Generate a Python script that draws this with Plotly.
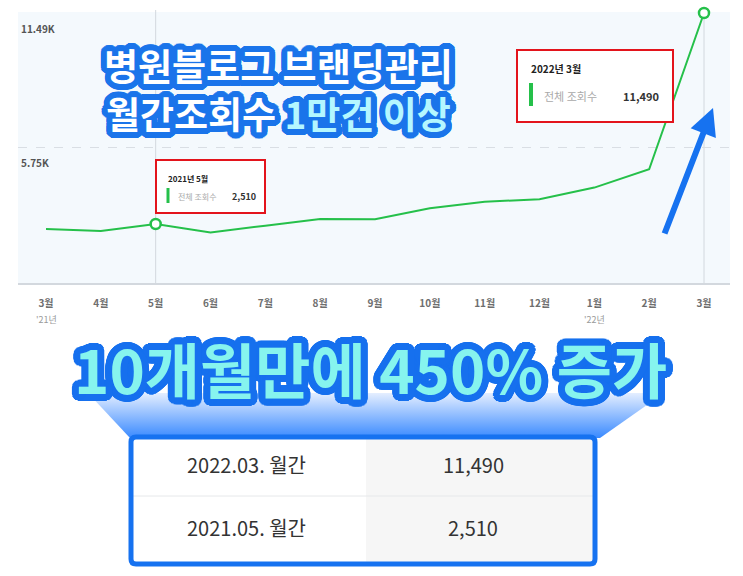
import math
import plotly.graph_objects as go

W, H = 743, 576

# ---------------- data ----------------
months = ["3월", "4월", "5월", "6월", "7월", "8월", "9월", "10월", "11월", "12월", "1월", "2월", "3월"]
views = [2300, 2210, 2510, 2150, 2440, 2720, 2710, 3180, 3460, 3560, 4060, 4840, 11490]
year_labels = ["'21년", "'22년"]
year_label_idx = [0, 10]
highlight_idx = [2, 12]
tooltip_titles = ["2021년 5월", "2022년 3월"]
tooltip_metric = "전체 조회수"
ytick_vals = [5750, 11490]
ytick_text = ["5.75K", "11.49K"]
title_line1 = "병원블로그 브랜딩관리"
title_line2a = "월간조회수 "
title_line2b = "1만건 이상"
headline = "10개월만에 450% 증가"
table_periods = ["2022.03. 월간", "2021.05. 월간"]
table_values = [11490, 2510]

# ---------------- helpers ----------------
FONT = "Noto Sans CJK KR"


def px(x):
    return x / W


def py(y):
    return 1 - y / H


def outline(color, r, steps=24):
    parts = []
    for rr in (r, r * 0.66, r * 0.33):
        for k in range(steps):
            a = 2 * math.pi * k / steps
            parts.append(f"{rr*math.cos(a):.2f}px {rr*math.sin(a):.2f}px 0.6px {color}")
    return ", ".join(parts)


GREEN = "#25c04a"
RED = "#e3141c"
BLUE = "#1672f0"

xs = list(range(len(months)))

fig = go.Figure()

# main line
fig.add_trace(go.Scatter(
    x=xs, y=views, mode="lines",
    line=dict(color=GREEN, width=2),
    xaxis="x", yaxis="y", hoverinfo="skip",
))
# highlighted points
fig.add_trace(go.Scatter(
    x=[xs[i] for i in highlight_idx], y=[views[i] for i in highlight_idx],
    mode="markers",
    marker=dict(size=10, color="white", line=dict(color=GREEN, width=2.5)),
    cliponaxis=False, xaxis="x", yaxis="y", hoverinfo="skip",
))

# gradient trapezoid under the headline (decoration, pixel space)
fig.add_trace(go.Scatter(
    x=[88, 664, 600, 130, 88], y=[393, 393, 438, 438, 393],
    mode="lines", line=dict(width=0), fill="toself",
    fillgradient=dict(type="vertical", start=393, stop=438,
                      colorscale=[[0, "#e4eeff"], [1, "#3a8aff"]]),
    xaxis="x2", yaxis="y2", hoverinfo="skip",
))

# ---------------- axes ----------------
x_left, x_right = 18, 730
y_top, y_base = 12, 283
x0_px, step_px = 46, (704 - 46) / 12
xr = [(x_left - x0_px) / step_px, (x_right - x0_px) / step_px]
per_px = 11490 / (y_base - 13)
yr = [0, 11490 + (13 - y_top) * per_px]

fig.update_layout(
    width=W, height=H,
    margin=dict(l=0, r=0, t=0, b=0),
    paper_bgcolor="white", plot_bgcolor="rgba(0,0,0,0)",
    showlegend=False, hovermode=False,
    xaxis=dict(
        domain=[px(x_left), px(x_right)], range=xr,
        tickvals=xs, ticktext=months, ticks="",
        tickfont=dict(family=FONT, size=10, color="#6e6e6e", weight="bold"),
        ticklabelstandoff=10, ticklabeloverflow="allow",
        showgrid=False, zeroline=False,
        showline=True, linecolor="#d3d8de", linewidth=2,
        fixedrange=True,
    ),
    yaxis=dict(
        domain=[py(y_base), py(y_top)], range=yr,
        tickvals=ytick_vals, showticklabels=False, ticks="",
        showgrid=True, gridcolor="#d9dee4", griddash="dash", gridwidth=1,
        zeroline=False, showline=False, fixedrange=True,
    ),
    xaxis2=dict(domain=[0, 1], range=[0, W], anchor="y2", visible=False, fixedrange=True),
    yaxis2=dict(domain=[0, 1], range=[H, 0], anchor="x2", visible=False, fixedrange=True),
)

shapes = []
# plot background
shapes.append(dict(type="rect", xref="paper", yref="paper", layer="below",
                   x0=px(x_left), x1=px(x_right), y0=py(y_base), y1=py(y_top),
                   fillcolor="#f4f9fd", line=dict(width=0)))
# vertical hover lines
for i, top in zip(highlight_idx, [10, 18]):
    shapes.append(dict(type="line", xref="x", yref="paper", layer="below",
                       x0=xs[i], x1=xs[i], y0=py(y_base), y1=py(top),
                       line=dict(color="#d2d8de", width=1)))

# tooltip boxes
boxes = [(156, 265, 160, 213), (517, 673, 50, 122)]
for (bx0, bx1, by0, by1) in boxes:
    shapes.append(dict(type="rect", xref="paper", yref="paper", layer="above",
                       x0=px(bx0), x1=px(bx1), y0=py(by1), y1=py(by0),
                       fillcolor="white", line=dict(color=RED, width=2)))
# green legend bars in tooltips
bars = [(168, 188, 203, 3), (531, 83, 106, 4)]
for (gx, gy0, gy1, gw) in bars:
    shapes.append(dict(type="line", xref="paper", yref="paper", layer="above",
                       x0=px(gx), x1=px(gx), y0=py(gy0), y1=py(gy1),
                       line=dict(color=GREEN, width=gw)))

# table
tx0, tx1, ty0, ty1 = 131, 595, 437, 564
shapes.append(dict(type="rect", xref="paper", yref="paper", layer="above",
                   x0=px(tx0), x1=px(tx1), y0=py(ty1), y1=py(ty0),
                   fillcolor="white", line=dict(width=0)))
shapes.append(dict(type="rect", xref="paper", yref="paper", layer="above",
                   x0=px(366), x1=px(tx1 - 2), y0=py(ty1 - 2), y1=py(ty0 + 2),
                   fillcolor="#f6f6f6", line=dict(width=0)))
shapes.append(dict(type="line", xref="paper", yref="paper", layer="above",
                   x0=px(tx0 + 2), x1=px(tx1 - 2), y0=py(496), y1=py(496),
                   line=dict(color="#e6e8ea", width=1)))
# rounded blue border
r = 5
x0p, x1p, y0p, y1p = tx0, tx1, ty0, ty1
path = (f"M {px(x0p+r)},{py(y0p)} L {px(x1p-r)},{py(y0p)} "
        f"Q {px(x1p)},{py(y0p)} {px(x1p)},{py(y0p+r)} L {px(x1p)},{py(y1p-r)} "
        f"Q {px(x1p)},{py(y1p)} {px(x1p-r)},{py(y1p)} L {px(x0p+r)},{py(y1p)} "
        f"Q {px(x0p)},{py(y1p)} {px(x0p)},{py(y1p-r)} L {px(x0p)},{py(y0p+r)} "
        f"Q {px(x0p)},{py(y0p)} {px(x0p+r)},{py(y0p)} Z")
shapes.append(dict(type="path", xref="paper", yref="paper", layer="above",
                   path=path, line=dict(color=BLUE, width=5)))

fig.update_layout(shapes=shapes)

ann = []
# y labels (inside the plot, below the gridline)
for v, t in zip(ytick_vals, ytick_text):
    ann.append(dict(x=px(x_left + 1), xref="paper", y=v, yref="y", yshift=-15,
                    text=t, showarrow=False, xanchor="left", yanchor="middle",
                    font=dict(family=FONT, size=10, color="#555555", weight="bold")))

# year labels
for lab, i in zip(year_labels, year_label_idx):
    ann.append(dict(x=xs[i], xref="x", y=py(319), yref="paper", text=lab,
                    showarrow=False, xanchor="center", yanchor="middle",
                    font=dict(family=FONT, size=9, color="#9a9a9a")))

# tooltip texts
tip_layout = [
    dict(tx=166, ty=178, lx=176, vx=258, vy=197, ts=8, ls=8, vs=9),
    dict(tx=529, ty=68, lx=542, vx=661, vy=96, ts=10, ls=11, vs=11),
]
for t, title, i in zip(tip_layout, tooltip_titles, highlight_idx):
    ann.append(dict(x=px(t["tx"]), y=py(t["ty"]), xref="paper", yref="paper",
                    text=title, showarrow=False, xanchor="left", yanchor="middle",
                    font=dict(family=FONT, size=t["ts"], color="#222", weight="bold")))
    ann.append(dict(x=px(t["lx"]), y=py(t["vy"]), xref="paper", yref="paper",
                    text=tooltip_metric, showarrow=False, xanchor="left", yanchor="middle",
                    font=dict(family=FONT, size=t["ls"], color="#a9a9a9")))
    ann.append(dict(x=px(t["vx"]), y=py(t["vy"]), xref="paper", yref="paper",
                    text=f"{views[i]:,}", showarrow=False, xanchor="right", yanchor="middle",
                    font=dict(family=FONT, size=t["vs"], color="#333", weight="bold")))

# two-line title with blue outline
title_shadow = outline("#1a74ea", 6)
ann.append(dict(x=px(278), y=py(89), xref="paper", yref="paper",
                text=title_line1 + "<br>" + title_line2a
                + f"<span style='color:#b4f7ff'>{title_line2b}</span>",
                showarrow=False, xanchor="center", yanchor="middle", align="center",
                font=dict(family=FONT, size=37, color="white", weight="bold",
                          shadow=title_shadow)))

# arrow
ann.append(dict(x=px(713), y=py(108), xref="paper", yref="paper", text="",
                showarrow=True, ax=-49, ay=127, axref="pixel", ayref="pixel",
                arrowhead=2, arrowsize=0.9, arrowwidth=6, arrowcolor=BLUE, standoff=0))

# headline
ann.append(dict(x=px(370), y=py(367), xref="paper", yref="paper", text=headline,
                showarrow=False, xanchor="center", yanchor="middle",
                font=dict(family=FONT, size=60, color="#86f4ee", weight="bold",
                          shadow=outline("#1670ee", 7, 32))))

# table texts
row_y = [464, 527]
for per, val, ry in zip(table_periods, table_values, row_y):
    ann.append(dict(x=px(246), y=py(ry), xref="paper", yref="paper", text=per,
                    showarrow=False, xanchor="center", yanchor="middle",
                    font=dict(family=FONT, size=20, color="#333333")))
    ann.append(dict(x=px(473), y=py(ry), xref="paper", yref="paper", text=f"{val:,}",
                    showarrow=False, xanchor="center", yanchor="middle",
                    font=dict(family=FONT, size=20, color="#333333")))

fig.update_layout(annotations=ann)

fig.write_html("out.html")
